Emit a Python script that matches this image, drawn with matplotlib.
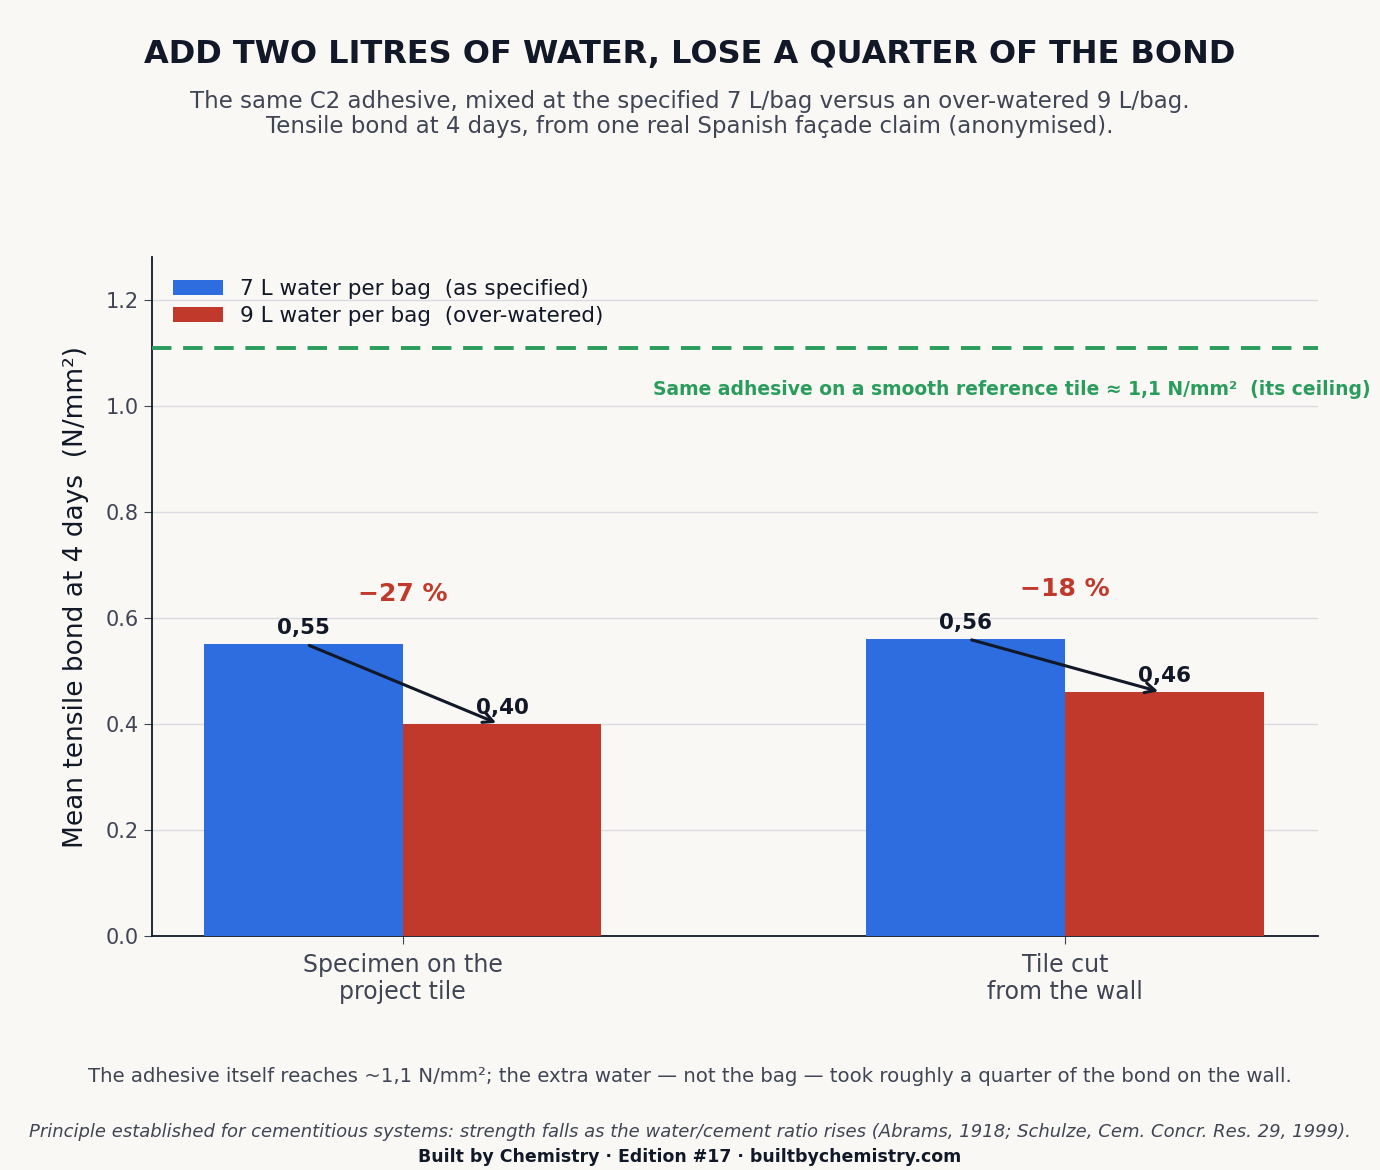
import matplotlib
matplotlib.use("Agg")
import matplotlib.pyplot as plt
import numpy as np

categories = ["Specimen on the\nproject tile", "Tile cut\nfrom the wall"]
spec_vals = [0.55, 0.56]
over_vals = [0.40, 0.46]
spec_labels = ["0,55", "0,56"]
over_labels = ["0,40", "0,46"]
pct_labels = ["\u221227 %", "\u221218 %"]
ceiling = 1.11
yticks = [0.0, 0.2, 0.4, 0.6, 0.8, 1.0, 1.2]

BG = "#F9F8F5"; BLUE = "#2E6DDF"; RED = "#C0392B"; GREEN = "#2A9D5C"; DARK = "#111827"; GREY = "#3F4554"

fig = plt.figure(figsize=(13.8, 11.7), dpi=100, facecolor=BG)
ax = fig.add_axes([0.110, 0.200, 0.845, 0.580], facecolor=BG)
x = np.arange(len(categories))
w = 0.3
ax.bar(x - w/2, spec_vals, w, color=BLUE, label="7 L water per bag  (as specified)", zorder=3)
ax.bar(x + w/2, over_vals, w, color=RED, label="9 L water per bag  (over-watered)", zorder=3)
ax.axhline(ceiling, color=GREEN, ls=(0, (5, 3)), lw=2.8, zorder=4)
ax.text(1.045, 1.03, "Same adhesive on a smooth reference tile \u2248 1,1 N/mm\u00b2  (its ceiling)",
        transform=ax.get_yaxis_transform(), ha="right", va="center", color=GREEN, fontsize=13.5, fontweight="bold")
for i in range(len(categories)):
    ax.text(x[i] - w/2, spec_vals[i] + 0.012, spec_labels[i], ha="center", va="bottom", fontsize=15.5, fontweight="bold", color=DARK, zorder=5)
    ax.text(x[i] + w/2, over_vals[i] + 0.012, over_labels[i], ha="center", va="bottom", fontsize=15.5, fontweight="bold", color=DARK, zorder=5)
    ax.annotate("", xy=(x[i] + w/2 - 0.005, over_vals[i]), xytext=(x[i] - w/2 + 0.005, spec_vals[i]),
                arrowprops=dict(arrowstyle="->", color=DARK, lw=2.2, mutation_scale=18), zorder=6)
    ax.text(x[i], max(spec_vals[i], over_vals[i]) + 0.095, pct_labels[i], ha="center", va="center",
            fontsize=18, fontweight="bold", color=RED)
ax.set_xlim(-0.379, 1.382)
ax.set_ylim(0, 1.28)
ax.set_yticks(yticks)
ax.set_yticklabels([f"{v:.1f}" for v in yticks])
ax.set_xticks(x)
ax.set_xticklabels(categories, fontsize=17, color=GREY)
ax.tick_params(axis="y", labelsize=15, colors=GREY, length=6)
ax.tick_params(axis="x", length=6, colors=GREY, pad=6)
ax.grid(axis="y", color="#DADAE0", lw=1, zorder=0)
for s in ["top", "right"]:
    ax.spines[s].set_visible(False)
for s in ["left", "bottom"]:
    ax.spines[s].set_color(DARK); ax.spines[s].set_linewidth(1.3)
ax.set_ylabel("Mean tensile bond at 4 days  (N/mm\u00b2)", fontsize=19, color=DARK, labelpad=12)
ax.legend(loc="upper left", frameon=False, fontsize=15.5, labelcolor=DARK, handlelength=2.3,
          borderaxespad=0.5, borderpad=0.5, labelspacing=0.35)

fig.text(0.5, 1 - 54/1170, "ADD TWO LITRES OF WATER, LOSE A QUARTER OF THE BOND", ha="center", va="center",
         fontsize=23, fontweight="bold", color=DARK)
fig.text(0.5, 1 - 114/1170, "The same C2 adhesive, mixed at the specified 7 L/bag versus an over-watered 9 L/bag.\nTensile bond at 4 days, from one real Spanish fa\u00e7ade claim (anonymised).",
         ha="center", va="center", fontsize=16.5, color=GREY, linespacing=1.15)
fig.text(0.5, 1 - 1076/1170, "The adhesive itself reaches ~1,1 N/mm\u00b2; the extra water \u2014 not the bag \u2014 took roughly a quarter of the bond on the wall.",
         ha="center", va="center", fontsize=14.2, color=GREY)
fig.text(0.5, 1 - 1132/1170, "Principle established for cementitious systems: strength falls as the water/cement ratio rises (Abrams, 1918; Schulze, Cem. Concr. Res. 29, 1999).",
         ha="center", va="center", fontsize=13, color=GREY, style="italic")
fig.text(0.5, 1 - 1157/1170, "Built by Chemistry \u00b7 Edition #17 \u00b7 builtbychemistry.com", ha="center", va="center",
         fontsize=12.5, fontweight="bold", color=DARK)
fig.savefig("out.png", dpi=100, facecolor=BG)
